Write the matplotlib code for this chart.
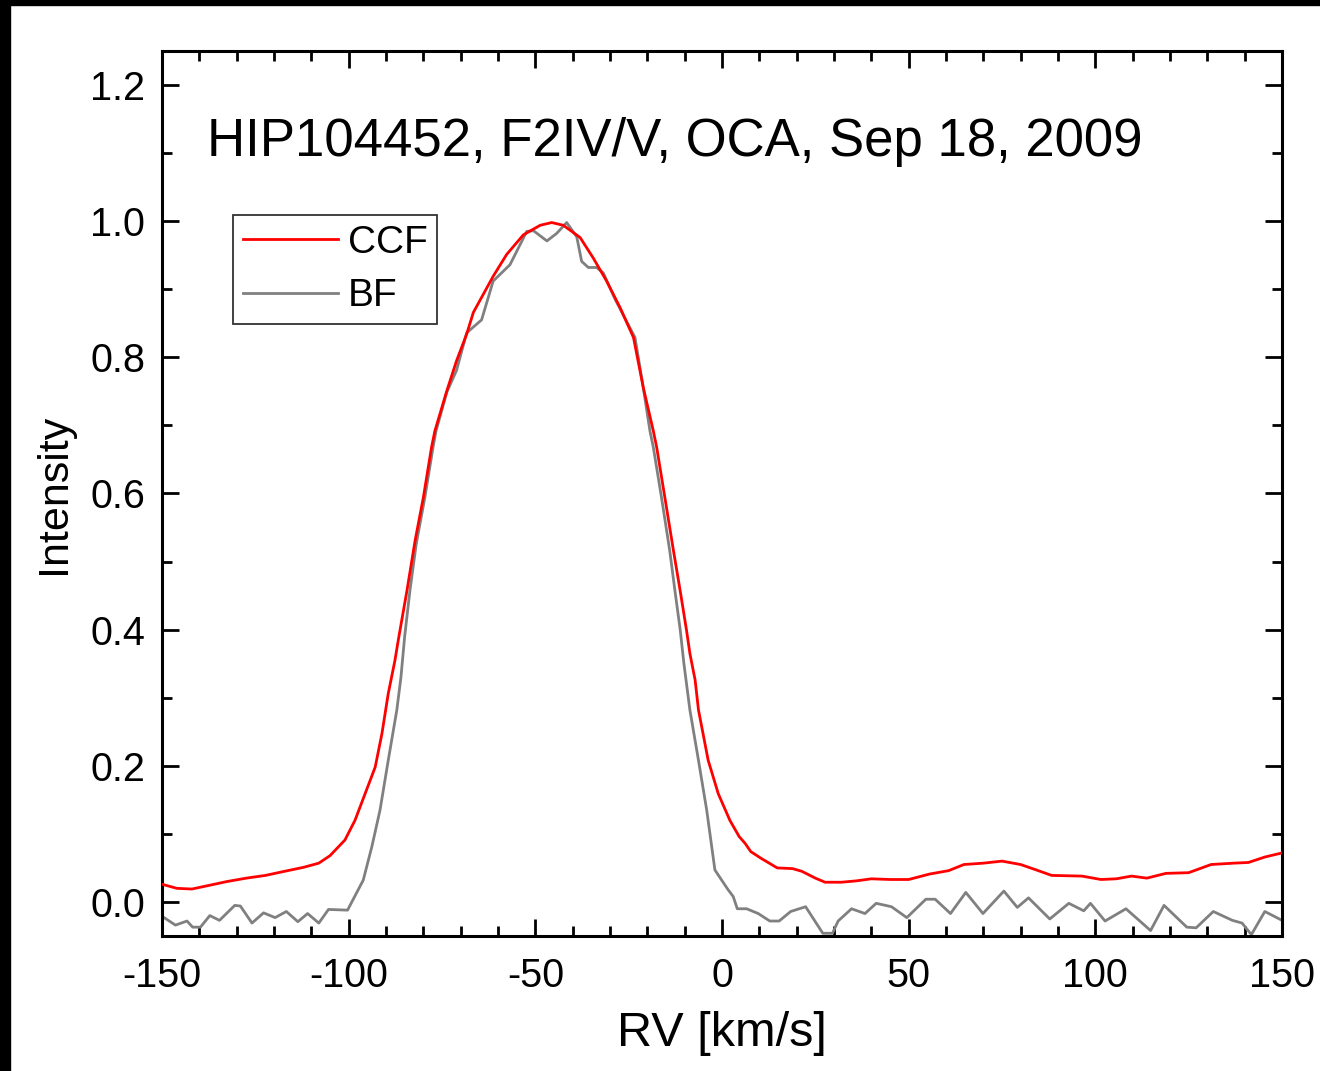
import matplotlib
matplotlib.use("Agg")
import matplotlib.pyplot as plt
from matplotlib.patches import Rectangle
from matplotlib.ticker import MultipleLocator

plt.rcParams['font.family'] = ['Liberation Sans', 'DejaVu Sans']

# ---- data ----
ccf_rv = [-150, -146, -142, -137.7, -132.6, -127.4, -122.3, -117.2, -112, -108, -105, -101,
          -98.3, -95.6, -92.9, -91.1, -89.4, -87.6, -86.7, -84.4, -82.2, -80.0, -77.8, -76.9,
          -73.7, -71.1, -68.4, -66.6, -61.3, -57.7, -53.2, -48.7, -45.6, -42.5, -38.0, -34.5,
          -30.9, -27.3, -23.7, -21.1, -18.4, -17.5, -15.3, -13.0, -11.2, -9.5, -8.6, -7.2,
          -6.3, -3.7, -1.0, 2.1, 4.6, 6.2, 7.7, 10.5, 14.8, 18.9, 21.4, 25, 27.6, 32, 36,
          40, 45, 50, 55.6, 60.7, 64.8, 70, 75, 80, 84.2, 88.3, 96.4, 101.5, 105.6, 109.7,
          113.8, 118.9, 125, 131, 137, 141, 145.4, 150]
ccf_int = [0.026, 0.020, 0.019, 0.024, 0.030, 0.035, 0.039, 0.045, 0.051, 0.057, 0.068, 0.091,
           0.120, 0.159, 0.198, 0.247, 0.306, 0.355, 0.385, 0.457, 0.531, 0.594, 0.668, 0.692,
           0.751, 0.795, 0.834, 0.866, 0.919, 0.951, 0.980, 0.994, 0.998, 0.994, 0.976, 0.946,
           0.912, 0.873, 0.829, 0.756, 0.692, 0.668, 0.594, 0.516, 0.457, 0.399, 0.365, 0.326,
           0.282, 0.208, 0.159, 0.120, 0.096, 0.086, 0.074, 0.064, 0.050, 0.049, 0.045, 0.035,
           0.029, 0.029, 0.031, 0.034, 0.033, 0.033, 0.041, 0.046, 0.055, 0.057, 0.060, 0.055,
           0.047, 0.039, 0.038, 0.033, 0.034, 0.038, 0.035, 0.042, 0.043, 0.055, 0.057, 0.058,
           0.066, 0.072]

bf_rv = [-150, -146.4, -143.3, -141.8, -139.7, -137.2, -134.6, -130.5, -129, -125.9, -122.8,
         -119.7, -116.7, -113.6, -111, -108, -105.4, -100.3, -96.1, -93.8, -91.6, -89.4, -87.1,
         -86.0, -85.0, -83.6, -81.9, -79.6, -77.4, -76.6, -73.7, -71.1, -68.4, -64.4, -61.3,
         -56.8, -52.3, -50.5, -46.9, -44.3, -41.6, -38.9, -37.6, -35.8, -33.6, -31.8, -28.6,
         -23.3, -21.1, -19.3, -18.4, -16.2, -14.0, -12.6, -11.2, -10.2, -8.6, -6.3, -4.1,
         -1.9, 1.5, 3.0, 4.1, 6.6, 9.7, 12.8, 15.3, 18.4, 22.4, 27.0, 29.6, 31.1, 34.7, 38.3,
         41.3, 45.4, 49.5, 54.6, 57.1, 61.2, 65.3, 69.9, 75.5, 79.1, 82.1, 87.8, 92.9, 96.9,
         98.7, 102.6, 108.2, 114.8, 118.4, 124.5, 127.0, 131.6, 136.7, 139.3, 141.8, 145.4, 150]
bf_int = [-0.021, -0.034, -0.028, -0.037, -0.037, -0.020, -0.027, -0.005, -0.006, -0.031, -0.016,
          -0.023, -0.014, -0.029, -0.017, -0.031, -0.011, -0.012, 0.032, 0.081, 0.135, 0.208, 0.282,
          0.330, 0.390, 0.457, 0.526, 0.594, 0.668, 0.692, 0.749, 0.781, 0.836, 0.855, 0.912,
          0.936, 0.985, 0.986, 0.971, 0.982, 0.998, 0.977, 0.941, 0.932, 0.932, 0.924, 0.885,
          0.829, 0.756, 0.692, 0.668, 0.594, 0.516, 0.457, 0.400, 0.350, 0.282, 0.208, 0.135,
          0.047, 0.019, 0.008, -0.010, -0.010, -0.017, -0.028, -0.028, -0.014, -0.007, -0.046,
          -0.046, -0.028, -0.010, -0.017, -0.002, -0.007, -0.023, 0.004, 0.004, -0.017, 0.014,
          -0.017, 0.016, -0.008, 0.006, -0.025, -0.002, -0.013, -0.002, -0.028, -0.010, -0.042,
          -0.005, -0.037, -0.038, -0.014, -0.027, -0.031, -0.048, -0.014, -0.027]

title_text = "HIP104452, F2IV/V, OCA, Sep 18, 2009"

# ---- figure ----
fig = plt.figure(figsize=(13.2, 10.71), dpi=100)
fig.patch.set_facecolor('white')
ax = fig.add_axes([162/1320, 1 - 936/1071, (1282-162)/1320, (936-51)/1071])

ax.plot(ccf_rv, ccf_int, color='#ff0000', lw=2.0, label='CCF', zorder=3)
ax.plot(bf_rv, bf_int, color='#808080', lw=2.0, label='BF', zorder=2)

ax.set_xlim(-150, 150)
ax.set_ylim(-0.05, 1.25)
ax.xaxis.set_major_locator(MultipleLocator(50))
ax.xaxis.set_minor_locator(MultipleLocator(10))
ax.yaxis.set_major_locator(MultipleLocator(0.2))
ax.yaxis.set_minor_locator(MultipleLocator(0.1))
ax.yaxis.set_major_formatter(matplotlib.ticker.FormatStrFormatter('%.1f'))
ax.xaxis.set_major_formatter(matplotlib.ticker.FuncFormatter(lambda v, p: f"{v:.0f}"))

ax.tick_params(which='both', direction='in', top=True, right=True, width=2.0, colors='black')
ax.tick_params(which='major', length=12.5, labelsize=28.5)
ax.tick_params(which='minor', length=7)
ax.tick_params(axis='x', which='major', pad=15)
ax.tick_params(axis='y', which='major', pad=12)
for s in ax.spines.values():
    s.set_linewidth(2.2)

ax.set_xlabel("RV [km/s]", fontsize=35, labelpad=12)
ax.set_ylabel("Intensity", fontsize=31, labelpad=12)

ax.text(-137.9, 1.117, title_text, fontsize=38, ha='left', va='center')

leg = ax.legend(loc='upper left', bbox_to_anchor=((233-162)/1120, (936-215)/885),
                fontsize=28, frameon=True, fancybox=False, shadow=False,
                handlelength=2.45, handletextpad=0.25, borderpad=0.25, labelspacing=0.45,
                borderaxespad=0)
leg.get_frame().set_edgecolor('black')
leg.get_frame().set_linewidth(1.3)

# black image border strips (top and left)
fig.patches.append(Rectangle((0, 1 - 5/1071), 1, 5/1071, transform=fig.transFigure,
                             color='black', zorder=10))
fig.patches.append(Rectangle((0, 0), 10/1320, 1, transform=fig.transFigure,
                             color='black', zorder=10))

fig.savefig("out.png", dpi=100, facecolor='white')
